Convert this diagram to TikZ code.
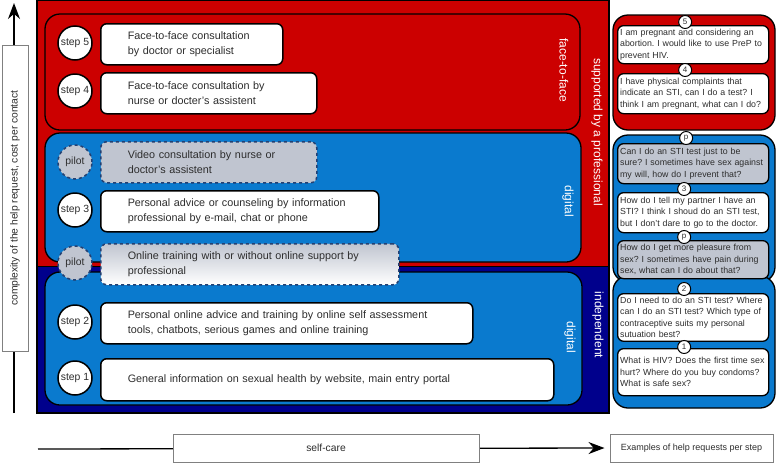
\documentclass[tikz,border=0pt]{standalone}
\usepackage{fontspec}
\setmainfont{Liberation Sans}
\frenchspacing
\usetikzlibrary{positioning}
\usetikzlibrary{arrows.meta}
\definecolor{careRed}{RGB}{204,0,0}
\definecolor{careBlue}{RGB}{10,122,206}
\definecolor{careNavy}{RGB}{0,0,140}
\definecolor{pilotGray}{RGB}{192,197,208}
\definecolor{pilotEdge}{RGB}{35,65,115}
\definecolor{txtGray}{RGB}{45,45,45}
\tikzset{every picture/.style={semithick, >=Stealth}}
\tikzstyle{block}=[draw,rounded corners]
\tikzstyle{region}=[draw=black,line width=1.3pt,rounded corners=15pt]
\tikzstyle{stepbox}=[block,rounded corners=6pt,line width=1.5pt,fill=white,text=txtGray,font=\fontsize{10.8}{15}\selectfont,align=left,anchor=north west,inner xsep=27pt,minimum height=41pt]
\tikzstyle{pilotbox}=[stepbox,draw=pilotEdge,dashed,fill=pilotGray]
\tikzstyle{stepdot}=[circle,draw,line width=1.5pt,fill=white,minimum size=34pt,inner sep=0pt,text=txtGray,font=\fontsize{10.4}{12}\selectfont]
\tikzstyle{pilotdot}=[stepdot,draw=pilotEdge,dashed,fill=pilotGray]
\tikzstyle{askbox}=[block,rounded corners=6pt,line width=1.3pt,fill=white,text=txtGray,font=\fontsize{8.8}{11.5}\selectfont,align=left,anchor=north west,inner xsep=2.5pt,text width=146pt]
\tikzstyle{askdot}=[circle,draw,line width=1pt,fill=white,minimum size=13pt,inner sep=0pt,text=txtGray,font=\fontsize{8}{8}\selectfont]
\tikzstyle{sidelabel}=[text=white,rotate=-90,font=\fontsize{12}{14}\selectfont]
\tikzstyle{axisbox}=[draw=gray,line width=1pt,fill=white,text=txtGray]
\begin{document}
\begin{tikzpicture}[x=1pt,y=-1pt]
        \useasboundingbox (0,0) rectangle (776,464);
        % background areas
        \fill [careRed] (37,0) rectangle (609,266);
        \fill [careNavy] (37,266) rectangle (609,413);
        \draw [line width=1.3pt] (37,0) rectangle (609,413);
        \draw [line width=1pt] (37,266) -- (609,266);
        \draw [region,fill=careRed] (45,14) rectangle (580,130);
        \draw [region,fill=careBlue] (45,133) rectangle (581,262);
        \draw [region,fill=careBlue] (45,272) rectangle (582,405);
        \node [sidelabel] (lblftf) at (564,70) {face-to-face};
        \node [sidelabel] (lblprof) at (597,132) {supported by a professional};
        \node [sidelabel] (lbldigA) at (568,201) {digital};
        \node [sidelabel] (lblind) at (598,325) {independent};
        \node [sidelabel] (lbldigB) at (570,337) {digital};
        % steps
        \node [stepbox,text width=128pt] (t5) at (100,23) {Face-to-face consultation\\by doctor or specialist};
        \node [stepbox,text width=162pt] (t4) at (100,72) {Face-to-face consultation by\\nurse or docter's assistent};
        \node [pilotbox,text width=162pt] (tv) at (100,141) {Video consultation by nurse or\\doctor's assistent};
        \node [stepbox,text width=224pt] (t3) at (100,190) {Personal advice or counseling by information\\professional by e-mail, chat or phone};
        \node [pilotbox,top color=pilotGray,bottom color=white,text width=244pt] (to) at (100,243) {Online training with or without online support by\\professional};
        \node [stepbox,text width=318pt] (t2) at (100,302) {Personal online advice and training by online self assessment\\tools, chatbots, serious games and online training};
        \node [stepbox,text width=399pt,minimum height=42pt] (t1) at (100,358) {General information on sexual health by website, main entry portal};
        \node [stepdot] (s5) at (75,43) {step 5};
        \node [stepdot] (s4) at (75,91) {step 4};
        \node [pilotdot] (sv) at (75,162) {pilot};
        \node [stepdot] (s3) at (75,210) {step 3};
        \node [pilotdot] (so) at (75,263) {pilot};
        \node [stepdot] (s2) at (75,322) {step 2};
        \node [stepdot] (s1) at (75,378) {step 1};
        % examples per step
        \draw [region,fill=careRed] (613,15) rectangle (775,130);
        \draw [region,fill=careBlue] (613,135) rectangle (775,282);
        \draw [region,fill=careBlue] (613,276) rectangle (775,408);
        \node [askbox,minimum height=38pt] (r5) at (617,25) {I am pregnant and considering an\\abortion. I would like to use PreP to\\prevent HIV.};
        \node [askbox,minimum height=40pt] (r4) at (617,73) {I have physical complaints that\\indicate an STI, can I do a test? I\\think I am pregnant, what can I do?};
        \node [askbox,fill=pilotGray,minimum height=40pt] (rpa) at (617,143) {Can I do an STI test just to be\\sure? I sometimes have sex against\\my will, how do I prevent that?};
        \node [askbox,minimum height=40pt] (r3) at (617,192) {How do I tell my partner I have an\\STI? I think I shoud do an STI test,\\but I don't dare to go to the doctor.};
        \node [askbox,fill=pilotGray,minimum height=38pt] (rpb) at (617,240) {How do I get more pleasure from\\sex? I sometimes have pain during\\sex, what can I do about that?};
        \node [askbox,minimum height=47pt] (r2) at (617,293) {Do I need to do an STI test? Where\\can I do an STI test? Which type of\\contraceptive suits my personal\\sutuation best?};
        \node [askbox,minimum height=47pt] (r1) at (617,348) {What is HIV? Does the first time sex\\hurt? Where do you buy condoms?\\What is safe sex?};
        \node [askdot] (n5) at ([xshift=-8pt,yshift=3pt]r5.north) {5};
        \node [askdot] (n4) at ([xshift=-8pt,yshift=3pt]r4.north) {4};
        \node [askdot] (npa) at ([xshift=-7pt,yshift=5pt]rpa.north) {p};
        \node [askdot] (n3) at ([xshift=-9pt,yshift=3pt]r3.north) {3};
        \node [askdot] (npb) at ([xshift=-9pt,yshift=3pt]rpb.north) {p};
        \node [askdot] (n2) at ([xshift=-9pt,yshift=4pt]r2.north) {2};
        \node [askdot] (n1) at ([xshift=-9pt,yshift=1pt]r1.north) {1};
        % axes
        \coordinate (yfoot) at (14,413);
        \coordinate (ytop) at (14,3);
        \draw [->,line width=1.3pt,>={Stealth[length=16pt,width=12pt]}] (yfoot) -- (ytop);
        \node [axisbox,rotate=90,minimum width=306pt,minimum height=26pt,font=\fontsize{10.3}{12}\selectfont] (yax) at (15,198) {complexity of the help request, cost per contact};
        \node [axisbox,minimum width=163pt,minimum height=28pt,font=\fontsize{9}{11}\selectfont] (ex) at (691.5,448) {Examples of help requests per step};
        \coordinate (xfoot) at (38,449);
        \draw [->,line width=1.3pt,>={Stealth[length=16pt,width=12pt]},shorten >=5pt] (xfoot) -- (ex.west);
        \node [axisbox,minimum width=306pt,minimum height=28pt,font=\fontsize{10.3}{12}\selectfont] (self) at (326,448) {self-care};
\end{tikzpicture}
\end{document}
